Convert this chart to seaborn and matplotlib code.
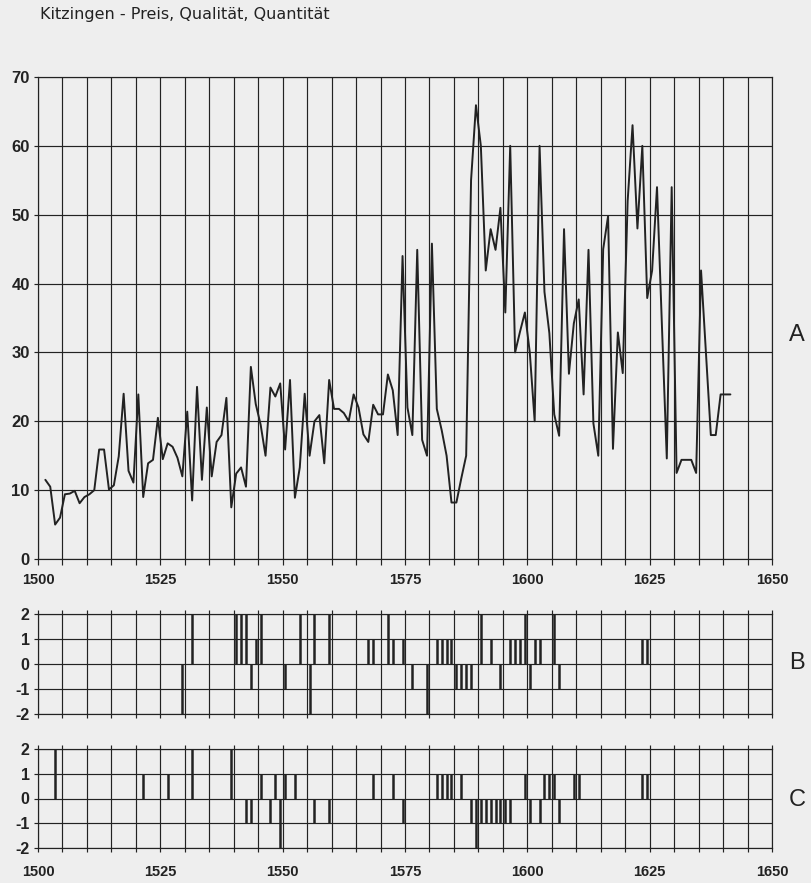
import matplotlib
matplotlib.use("Agg")
import matplotlib.pyplot as plt
import seaborn as sns
import numpy as np
import pandas as pd

# Kitzingen: price (A), quality (B), quantity (C), 1500-1650
price_years = list(range(1501, 1642))
price = [11.5, 10.5, 5.0, 6.0, 9.4, 9.5, 9.9, 8.1, 9.0, 9.4,
         10.0, 15.9, 15.9, 10.1, 10.7, 14.9, 24.0, 12.8, 11.1, 23.9,
         9.0, 13.9, 14.4, 20.5, 14.5, 16.8, 16.3, 14.7, 12.0, 21.4,
         8.5, 25.0, 11.5, 22.0, 12.0, 17.0, 18.0, 23.4, 7.5, 12.4,
         13.3, 10.5, 27.9, 22.5, 19.5, 15.0, 24.9, 23.6, 25.5, 15.9,
         26.0, 8.9, 13.3, 24.0, 15.0, 20.0, 20.9, 13.9, 26.0, 21.8,
         21.8, 21.2, 20.0, 23.9, 22.0, 18.1, 17.0, 22.4, 21.0, 21.0,
         26.8, 24.5, 18.0, 44.0, 22.0, 18.0, 44.9, 17.3, 15.0, 45.8,
         21.8, 18.7, 15.0, 8.2, 8.2, 11.7, 15.0, 55.0, 65.9, 60.0,
         41.9, 47.9, 44.9, 51.0, 35.8, 60.0, 30.0, 33.0, 35.8, 30.0,
         20.0, 60.0, 38.8, 32.8, 21.0, 17.9, 47.9, 26.9, 34.2, 37.7,
         23.9, 44.9, 19.7, 15.0, 45.0, 49.8, 16.0, 32.9, 27.0, 52.0,
         63.0, 48.0, 60.0, 37.9, 41.9, 54.0, 34.0, 14.6, 54.0, 12.5,
         14.4, 14.4, 14.4, 12.5, 41.9, 30.0, 18.0, 18.0, 23.9, 23.9,
         23.9]

qual_years = [1529, 1531, 1540, 1541, 1542, 1543, 1544, 1545, 1550, 1553,
              1555, 1556, 1559, 1567, 1568, 1571, 1572, 1574, 1576, 1579,
              1581, 1582, 1583, 1584, 1585, 1586, 1587, 1588, 1590, 1592,
              1594, 1596, 1597, 1598, 1599, 1600, 1601, 1602, 1605, 1606,
              1623, 1624]
qual = [-2, 2, 2, 2, 2, -1, 1, 2, -1, 2,
        -2, 2, 2, 1, 1, 2, 1, 1, -1, -2,
        1, 1, 1, 1, -1, -1, -1, -1, 2, 1,
        -1, 1, 1, 1, 2, -1, 1, 1, 2, -1,
        1, 1]

quant_years = [1503, 1521, 1526, 1531, 1539, 1542, 1543, 1545, 1547, 1548,
               1549, 1550, 1552, 1556, 1559, 1568, 1572, 1574, 1581, 1582,
               1583, 1584, 1586, 1588, 1589, 1590, 1591, 1592, 1593, 1594,
               1595, 1596, 1599, 1600, 1602, 1603, 1604, 1605, 1606, 1609,
               1610, 1623, 1624]
quant = [2, 1, 1, 2, 2, -1, -1, 1, -1, 1,
         -2, 1, 1, -1, -1, 1, 1, -1, 1, 1,
         1, 1, 1, -1, -2, -1, -1, -1, -1, -1,
         -1, -1, 1, -1, -1, 1, 1, 1, -1, 1,
         1, 1, 1]

ink = "#222222"
bg = "#eeeeee"

sns.set_theme(style="white")
plt.rcParams["font.family"] = ["Liberation Sans", "DejaVu Sans"]

fig = plt.figure(figsize=(8.11, 8.83), dpi=100, facecolor=bg)
W, H = 811.0, 883.0
def box(x0, y_top, x1, y_bot):
    return [x0/W, 1-y_bot/H, (x1-x0)/W, (y_bot-y_top)/H]

axA = fig.add_axes(box(38, 77, 772, 559))
axB = fig.add_axes(box(38, 614, 772, 714))
axC = fig.add_axes(box(38, 749, 772, 848))

xt = np.arange(1500, 1651, 5)
xl = [str(y) if y % 25 == 0 else "" for y in xt]

def frame(ax, yticks, labels_x, xpad, ysize):
    ax.set_facecolor(bg)
    ax.set_xlim(1500, 1650)
    ax.set_xticks(xt)
    ax.set_xticklabels(xl if labels_x else [])
    ax.set_yticks(yticks)
    ax.set_yticklabels([str(v) for v in yticks])
    ax.set_ylim(yticks[0], yticks[-1])
    ax.grid(True, color=ink, lw=0.85)
    for s in ax.spines.values():
        s.set_visible(True)
        s.set_color(ink)
        s.set_linewidth(0.85)
    ax.tick_params(axis="x", direction="out", length=4, width=0.85, color=ink,
                   pad=xpad, labelsize=10.5, labelcolor=ink, bottom=True)
    ax.tick_params(axis="y", direction="out", length=3, width=0.85, color=ink,
                   pad=3, labelsize=ysize, labelcolor=ink, left=True)
    for t in ax.get_xticklabels() + ax.get_yticklabels():
        t.set_fontweight("bold")
    ax.set_xlabel("")
    ax.set_ylabel("")

# A: price line
dfA = pd.DataFrame({"pos": np.array(price_years) + 0.5, "preis": price})
sns.lineplot(data=dfA, x="pos", y="preis", ax=axA, color=ink, linewidth=1.4)
frame(axA, list(range(0, 71, 10)), True, 6, 12)

# B and C: yearly deviations as thin bars
for ax, yrs, vals, lab in [(axB, qual_years, qual, False), (axC, quant_years, quant, True)]:
    ax.vlines(np.array(yrs) + 0.5, 0, vals, color=ink, lw=1.8)
    frame(ax, [-2, -1, 0, 1, 2], lab, 9, 11.5)
    ax.tick_params(axis="x", top=True, length=3)

fig.text(40/W, 1-15/H, "Kitzingen - Preis, Qualität, Quantität",
         fontsize=11.5, color=ink, va="center", ha="left", family="DejaVu Sans")
for lab, y in [("A", 335), ("B", 663), ("C", 800)]:
    fig.text(797/W, 1-y/H, lab, fontsize=17, color=ink, va="center", ha="center")

fig.savefig("out.png", dpi=100, facecolor=bg)
